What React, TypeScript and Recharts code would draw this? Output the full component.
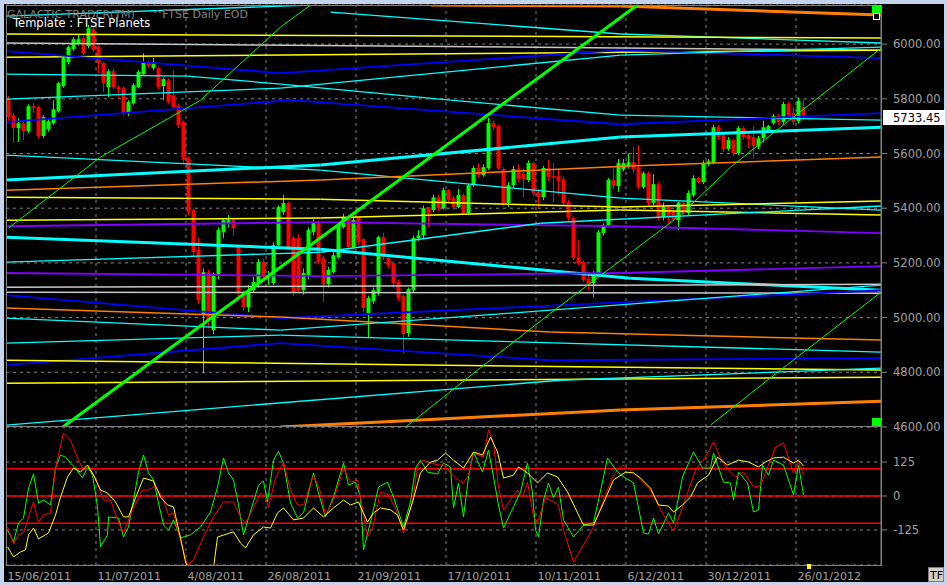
import React from 'react';
import { ComposedChart, Bar, Line, XAxis, YAxis, CartesianGrid, ReferenceLine } from 'recharts';

// ---------- DATA ----------
// one candle per trading day from 15/06/2011: [open, high, low, close]
const candles: number[][] = [
  [5799,5810,5720,5733],[5740,5750,5638,5693],[5693,5729,5642,5711],[5711,5720,5649,5682],[5682,5780,5675,5773],
  [5773,5784,5748,5766],[5770,5775,5655,5664],[5664,5740,5656,5733],[5689,5726,5680,5718],[5711,5795,5705,5762],
  [5755,5862,5750,5857],[5846,5955,5840,5949],[5934,5995,5925,5989],[5982,6025,5975,6018],[6004,6033,5995,6018],
  [6022,6030,5960,5967],[5993,6070,5985,6058],[6055,6062,5970,5978],[5989,5995,5894,5931],[5931,5935,5824,5857],
  [5843,5908,5806,5901],[5901,5910,5835,5843],[5843,5850,5806,5835],[5839,5846,5740,5748],[5748,5795,5737,5788],
  [5784,5857,5778,5850],[5843,5905,5838,5898],[5890,5967,5885,5931],[5931,5940,5912,5920],[5912,5949,5905,5931],
  [5912,5918,5835,5843],[5846,5878,5795,5872],[5868,5875,5780,5788],[5813,5905,5762,5770],[5773,5780,5693,5704],
  [5715,5720,5565,5576],[5583,5590,5375,5386],[5393,5400,5221,5239],[5247,5294,5050,5064],[5009,5180,4797,5166],
  [5166,5175,4960,4991],[4954,5165,4940,5152],[5155,5330,5140,5320],[5312,5360,5290,5356],[5345,5375,5330,5356],
  [5356,5360,5300,5327],[5258,5265,5080,5089],[5089,5100,5025,5038],[5038,5120,5020,5100],[5100,5150,5090,5130],
  [5126,5215,5110,5203],[5203,5215,5135,5148],[5148,5170,5120,5150],[5126,5275,5120,5265],[5265,5410,5255,5404],
  [5386,5448,5375,5419],[5419,5425,5250,5258],[5291,5300,5080,5093],[5291,5305,5090,5100],[5100,5180,5085,5163],
  [5152,5330,5140,5320],[5312,5360,5300,5345],[5345,5355,5195,5203],[5217,5225,5057,5122],[5122,5185,5110,5174],
  [5166,5240,5160,5228],[5221,5345,5215,5338],[5331,5380,5325,5367],[5367,5375,5250,5258],[5258,5365,5250,5356],
  [5364,5370,5265,5276],[5287,5290,5020,5035],[5016,5080,4925,5071],[5060,5110,5050,5100],[5089,5300,5080,5294],
  [5294,5310,5210,5221],[5217,5225,5180,5192],[5199,5205,5110,5126],[5130,5140,5060,5071],[5078,5085,4870,4939],
  [4943,5110,4930,5104],[5100,5300,5090,5291],[5291,5320,5280,5301],[5301,5410,5290,5400],[5404,5404,5331,5380],
  [5393,5450,5385,5440],[5440,5450,5390,5400],[5400,5475,5395,5466],[5466,5470,5420,5430],[5437,5445,5395,5404],
  [5404,5470,5400,5448],[5448,5455,5375,5382],[5382,5490,5375,5484],[5484,5555,5478,5547],[5547,5565,5510,5521],
  [5521,5560,5515,5550],[5547,5730,5540,5711],[5711,5720,5685,5696],[5700,5705,5540,5547],[5543,5550,5410,5419],
  [5419,5495,5405,5484],[5484,5555,5475,5543],[5543,5560,5495,5506],[5525,5545,5440,5506],[5503,5575,5495,5565],
  [5565,5570,5445,5455],[5459,5470,5400,5440],[5440,5555,5430,5547],[5547,5576,5500,5514],[5517,5565,5422,5512],
  [5517,5540,5448,5499],[5506,5515,5410,5419],[5422,5430,5355,5364],[5364,5370,5210,5217],[5221,5283,5190,5199],
  [5203,5210,5130,5137],[5141,5165,5100,5122],[5126,5170,5075,5163],[5163,5320,5155,5312],[5309,5345,5300,5338],
  [5338,5510,5330,5503],[5503,5545,5470,5481],[5481,5580,5460,5565],[5543,5580,5535,5565],[5554,5600,5545,5568],
  [5568,5625,5530,5543],[5547,5631,5470,5477],[5477,5535,5470,5528],[5528,5535,5410,5419],[5419,5525,5410,5488],
  [5488,5495,5355,5364],[5367,5420,5355,5404],[5404,5410,5340,5367],[5386,5395,5350,5360],[5356,5425,5320,5419],
  [5419,5430,5375,5382],[5382,5465,5375,5455],[5448,5520,5440,5510],[5510,5515,5490,5495],[5495,5575,5488,5565],
  [5561,5580,5555,5572],[5565,5705,5560,5696],[5696,5705,5650,5660],[5667,5675,5605,5616],[5616,5660,5610,5649],
  [5649,5655,5590,5601],[5601,5700,5595,5693],[5693,5700,5650,5660],[5667,5680,5620,5653],[5660,5700,5580,5627],
  [5627,5665,5615,5656],[5656,5720,5640,5696],[5685,5705,5680,5700],[5711,5745,5705,5737],[5737,5745,5705,5715],
  [5715,5790,5705,5781],[5781,5790,5730,5740],[5748,5770,5705,5715],[5718,5805,5710,5792],[5770,5800,5725,5733.45],
];

const dateTickDays = [0, 18, 36, 52, 70, 88, 106, 124, 140, 158];
const dateTickLabels = ['15/06/2011','11/07/2011','4/08/2011','26/08/2011','21/09/2011','17/10/2011','10/11/2011','6/12/2011','30/12/2011','26/01/2012'];
const priceTicks = [4600, 4800, 5000, 5200, 5400, 5600, 5800, 6000];
const oscTicks = [-125, 0, 125];
const oscBands = [100, 0, -100];
const lastPrice = 5733.45;

// planetary lines: [day index, price]
const cyanA = [[-0.5,6102],[60.4,6143]];
const orangeTop = [[84.4,6143],[122.4,6139],[174.5,6106]];
const cyanB = [[64.4,6117],[122.4,6037],[174.5,6004]];
const yellowA = [[-0.5,6037],[174.5,6022]];
const silverA = [[-0.5,6004],[174.5,5978]];
const yellowB = [[-0.5,5952],[174.5,5978]];
const blueA = [[-0.5,5974],[54.4,5894],[122.4,5978],[174.5,5949]];
const cyanC = [[-0.5,5890],[35.8,5883],[54.4,5854],[88.4,5795],[122.4,5740],[174.5,5722]];
const cyanD = [[-0.5,5799],[54.4,5839],[122.4,5960],[174.5,5989]];
const blueB = [[-0.5,5715],[56.4,5795],[122.4,5707],[174.5,5748]];
const cyanE = [[-0.5,5594],[62.4,5539],[122.4,5437],[174.5,5393]];
const cyanThickA = [[-0.5,5503],[62.4,5558],[122.4,5660],[174.5,5696]];
const orangeA = [[-0.5,5466],[62.4,5503],[124.4,5554],[174.5,5587]];
const yellowC = [[-0.5,5440],[62.4,5433],[122.4,5404],[174.5,5426]];
const yellowD = [[-0.5,5356],[62.4,5364],[122.4,5393],[174.5,5375]];
const purpleA = [[-0.5,5334],[62.4,5349],[122.4,5334],[174.5,5309]];
const cyanThickB = [[-0.5,5294],[62.4,5250],[124.4,5144],[174.5,5100]];
const cyanF = [[-0.5,5203],[62.4,5239],[106.4,5345],[174.5,5408]];
const purpleB = [[-0.5,5163],[62.4,5152],[122.4,5163],[174.5,5188]];
const silverB = [[-0.5,5111],[174.5,5122]];
const silverC = [[-0.5,5093],[174.5,5089]];
const blueC = [[-0.5,5082],[54.4,4998],[174.5,5100]];
const orangeB = [[-0.5,5035],[54.4,5002],[108.4,4947],[174.5,4918]];
const cyanG = [[-0.5,4998],[54.4,4954],[108.4,5027],[174.5,5119]];
const cyanH = [[-0.5,4907],[54.4,4936],[174.5,4874]];
const blueD = [[-0.5,4826],[54.4,4907],[108.4,4844],[174.5,4852]];
const yellowE = [[-0.5,4844],[174.5,4808]];
const yellowF = [[-0.5,4760],[174.5,4782]];
const cyanI = [[-0.5,4607],[110.4,4771],[174.5,4815]];
const orangeBottom = [[54.4,4600],[122.4,4662],[174.5,4694]];
const greenThick = [[10.8,4599],[125.8,6143]];
const greenA = [[0,5327],[18.4,5587],[38.4,5795],[54.4,6062],[60.4,6143]];
const greenB = [[79.4,4599],[93.8,4808],[108.4,5016],[123,5217],[134.4,5375],[144.4,5550],[154.4,5696],[164.4,5839],[174.5,5985]];
const greenC = [[140.4,4607],[151.8,4771],[174.5,5093]];

// oscillator panel: [day index, value]
const oscGreen = [[-0.2,-125],[1,-169],[2,-99],[3,-81],[4,29],[5,81],[6,-26],[7,-15],[8.4,-33],[9.4,103],[10.4,151],[11.4,143],[12.4,121],[13.4,103],[14.8,66],[15.8,107],[16.8,77],[17.8,-40],[18.4,-187],[19.8,-143],[20,-77],[22,-81],[23,-151],[24,-114],[25,-15],[26,88],[27,151],[28,85],[29,59],[30,-26],[31,-107],[32,-125],[33,-88],[34.4,-154],[36.4,-143],[38.4,-114],[40.4,-59],[41.8,33],[43,140],[44,85],[45,59],[46,-33],[47,-143],[48,-81],[50,40],[51,55],[51.8,-22],[53,132],[54,165],[55,121],[56.4,-26],[57.8,-81],[59,-62],[61,85],[62,11],[63.4,-77],[65,-4],[67,121],[68,40],[69.4,51],[70.4,-4],[71,-198],[72.4,-96],[74,33],[75.8,51],[77,-4],[79,-114],[80.4,-22],[81.4,103],[82.4,132],[83.8,88],[85.8,81],[87,121],[88.4,107],[89,-44],[90,48],[91,-77],[92,70],[93,162],[94.8,88],[96,169],[97,70],[98,-33],[99,-118],[101,-40],[102.4,15],[103.8,121],[104.8,11],[105.4,-125],[106,-151],[107,-15],[108,48],[109,-7],[110,33],[111,-88],[113,-151],[115,-107],[117,-99],[118,-15],[119.8,140],[121.8,88],[123.4,66],[125,48],[127,-136],[128,-140],[129,-81],[130,-140],[132,-62],[133,-99],[134.8,70],[137,162],[138.8,103],[140.4,103],[141,158],[143,51],[144.4,48],[145,-15],[146,88],[147.8,48],[149,-59],[150,-51],[150.8,114],[152,77],[153,132],[155,114],[157,4],[158,114],[159,4]];
const oscRed = [[-0.2,-114],[1,-176],[2,-143],[3,-136],[4,-77],[5,-22],[6,-96],[7,-70],[8.4,-62],[9.4,103],[11,232],[12.4,206],[13.8,140],[15,96],[16,107],[17.4,66],[19,-15],[20.4,-15],[21.8,-88],[23,-136],[24.8,-51],[26.8,22],[28,22],[29.4,37],[31,-15],[32,-70],[33,-62],[34,-136],[35.8,-254],[37,-235],[39,-151],[41,-77],[43,-22],[45,-22],[46.4,-77],[47.4,-99],[48.8,-51],[50.4,11],[51.4,-7],[52,-40],[53.4,66],[55,125],[56.4,22],[57.8,-33],[59,-33],[61,77],[62.4,15],[63.4,-70],[65,-15],[67,103],[68.4,51],[69.8,59],[70.4,-7],[71.8,-151],[72.8,-118],[74.4,15],[76,4],[77.4,-44],[79,-136],[80.8,-22],[81.8,107],[82.8,132],[84,125],[85.8,114],[87,114],[88.4,85],[89.4,66],[91,48],[92,77],[93,158],[95,143],[96,243],[97,195],[98,33],[99,-51],[101.8,22],[102.8,-4],[103.8,51],[105,-77],[105.8,-96],[107.4,-7],[109,-22],[110,-33],[111,-125],[113,-243],[115,-180],[117,-114],[119,-15],[121,77],[122.8,114],[124.4,96],[126.4,59],[128.4,22],[131,-70],[133,-129],[134.4,-62],[135.8,11],[137.4,96],[139.4,143],[141,199],[142.4,140],[143.8,99],[145.4,70],[147,88],[149,33],[150.4,37],[152,114],[153.4,180],[155,195],[157,85],[158,125],[159,77]];
const oscYellow = [[-0.2,-187],[1,-224],[2.4,-206],[3.4,-198],[4,-143],[5,-118],[6,-158],[8,-136],[9.4,-70],[10.4,-4],[11.8,70],[13,103],[14.4,88],[15.8,114],[17,77],[18.4,22],[19.8,11],[21.4,-22],[23,-77],[24,-77],[25.4,-7],[27,66],[29,55],[30.4,-4],[31.8,-33],[33,-40],[34.4,-154],[35.4,-243],[36,-265],[41,-265],[41.8,-151],[45,-132],[46.4,-173],[47.4,-191],[49,-143],[51,-114],[52.4,-118],[53.8,-62],[55,-44],[57,-88],[59,-81],[61,-44],[63,-77],[65,-44],[67,-15],[68.4,-33],[70,-22],[71.8,-96],[73,-62],[74.4,-44],[76.4,-51],[77.8,-70],[79,-125],[80.8,-22],[82.4,85],[84.4,125],[85.8,132],[87.4,158],[89,132],[91,103],[93,162],[94.8,151],[96.4,217],[97.8,162],[99,66],[101,77],[102,107],[103.8,85],[105.8,48],[107.8,85],[109.8,70],[111.8,15],[113.8,-62],[115,-107],[117,-107],[119,-26],[121,59],[123.4,88],[125,85],[126.4,66],[128.4,29],[130,-33],[132,-37],[133,-59],[134.8,-33],[136.4,-4],[137.8,48],[140,77],[141.8,143],[143.8,114],[146,132],[148,125],[150,107],[151.4,125],[153,140],[155,143],[157,121],[158,132],[159,110]];

// ---------- STYLES ----------
const CYAN = '#00ffff', BLUE = '#0000ff', YELLOW = '#ffff00', ORANGE = '#ff8000', PURPLE = '#8000ff', SILVER = '#c8c8c8', GREEN = '#00ff00';
const planetLines = [
  { pts: cyanA, stroke: CYAN, w: 1.3 },
  { pts: orangeTop, stroke: ORANGE, w: 3 },
  { pts: cyanB, stroke: CYAN, w: 1.3 },
  { pts: yellowA, stroke: YELLOW, w: 1.5 },
  { pts: silverA, stroke: SILVER, w: 1.5 },
  { pts: yellowB, stroke: YELLOW, w: 1.5 },
  { pts: blueA, stroke: BLUE, w: 1.8 },
  { pts: cyanC, stroke: CYAN, w: 1.3 },
  { pts: cyanD, stroke: CYAN, w: 1.3 },
  { pts: blueB, stroke: BLUE, w: 1.8 },
  { pts: cyanE, stroke: CYAN, w: 1.3 },
  { pts: cyanThickA, stroke: CYAN, w: 3 },
  { pts: orangeA, stroke: ORANGE, w: 1.5 },
  { pts: yellowC, stroke: YELLOW, w: 1.5 },
  { pts: yellowD, stroke: YELLOW, w: 1.5 },
  { pts: purpleA, stroke: PURPLE, w: 1.8 },
  { pts: cyanThickB, stroke: CYAN, w: 3 },
  { pts: cyanF, stroke: CYAN, w: 1.3 },
  { pts: purpleB, stroke: PURPLE, w: 1.8 },
  { pts: silverB, stroke: SILVER, w: 1.5 },
  { pts: silverC, stroke: SILVER, w: 1.5 },
  { pts: blueC, stroke: BLUE, w: 1.8 },
  { pts: orangeB, stroke: ORANGE, w: 1.5 },
  { pts: cyanG, stroke: CYAN, w: 1.3 },
  { pts: cyanH, stroke: CYAN, w: 1.3 },
  { pts: blueD, stroke: BLUE, w: 1.8 },
  { pts: yellowE, stroke: YELLOW, w: 1.5 },
  { pts: yellowF, stroke: YELLOW, w: 1.5 },
  { pts: cyanI, stroke: CYAN, w: 1.3 },
  { pts: orangeBottom, stroke: ORANGE, w: 3 },
  { pts: greenThick, stroke: GREEN, w: 3 },
  { pts: greenA, stroke: GREEN, w: 1 },
  { pts: greenB, stroke: GREEN, w: 1 },
  { pts: greenC, stroke: GREEN, w: 1 },
];

const X_DOMAIN: [number, number] = [-0.5, 174.5];
const gridX = dateTickDays.map((d) => d - 0.5);
const candleData = candles.map(([o, h, l, c], i) => ({ i, o, h, l, c }));

const oscData = (() => {
  const m = new Map<number, any>();
  const add = (arr: number[][], key: string) =>
    arr.forEach(([i, v]) => {
      const r = m.get(i) || { i };
      r[key] = v;
      m.set(i, r);
    });
  add(oscGreen, 'g');
  add(oscRed, 'r');
  add(oscYellow, 'y');
  return Array.from(m.values()).sort((a, b) => a.i - b.i);
})();

const FONT = 'DejaVu Sans, Verdana, sans-serif';
const AXIS_TEXT = '#a0a0a0';
const GRID = '#808080';

const Candle = (props: any) => {
  const { x, y, width, height, payload } = props;
  if (x == null || !payload) return null;
  const { o, h, l, c } = payload;
  const top = Math.min(y, y + height);
  const hh = Math.abs(height);
  const k = h > l ? hh / (h - l) : 0;
  const cx = Math.round(x + width / 2) + 0.5;
  const color = c >= o ? '#00ff00' : '#ff0000';
  const bTop = top + (h - Math.max(o, c)) * k;
  const bBot = top + (h - Math.min(o, c)) * k;
  return (
    <g>
      <line x1={cx} x2={cx} y1={top} y2={top + hh} stroke={color} strokeWidth={1} />
      <rect x={cx - 2} y={bTop} width={4} height={Math.max(1, bBot - bTop)} fill={color} />
    </g>
  );
};

const PriceTag = (props: any) => {
  const vb = props.viewBox || {};
  const x = (vb.x || 0) + (vb.width || 0);
  const y = vb.y || 0;
  return (
    <g>
      <rect x={x + 2} y={y - 7} width={62} height={15} fill="#ffffff" />
      <text x={x + 12} y={y + 5} fontSize={11.5} fontFamily={FONT} fill="#000000">{lastPrice.toFixed(2)}</text>
    </g>
  );
};

const DateTick = (props: any) => {
  const { x, y, payload } = props;
  const k = gridX.indexOf(payload.value);
  return (
    <text x={x + 1.5} y={y + 15} fill={AXIS_TEXT} fontSize={11} fontFamily={FONT} textAnchor="start">
      {dateTickLabels[k]}
    </text>
  );
};

const segments = (pts: number[][]) => {
  const out: any[] = [];
  for (let j = 0; j < pts.length - 1; j++) out.push([pts[j], pts[j + 1]]);
  return out;
};

export default function App() {
  return (
    <div style={{ position: 'fixed', left: 0, top: 0, width: 947, height: 585, background: '#c3d4ec', overflow: 'hidden', fontFamily: FONT }}>
      <div style={{ position: 'absolute', left: 4, top: 4, width: 940, height: 578, background: '#000' }} />
      <div style={{ position: 'absolute', left: 0, top: 427 }}>
        <ComposedChart width={947} height={158} data={oscData} margin={{ top: 0, right: 0, left: 6, bottom: 0 }}>
          <XAxis
            type="number"
            dataKey="i"
            domain={X_DOMAIN}
            allowDataOverflow
            ticks={gridX}
            interval={0}
            tick={<DateTick />}
            tickLine={false}
            axisLine={false}
            tickSize={0}
            tickMargin={0}
            height={20}
          />
          <YAxis
            orientation="right"
            width={66}
            domain={[-254, 254]}
            allowDataOverflow
            ticks={oscTicks}
            interval={0}
            tick={{ fill: AXIS_TEXT, fontSize: 11.5, fontFamily: FONT }}
            tickLine={{ stroke: GRID }}
            tickSize={6}
            tickMargin={6}
            axisLine={{ stroke: GRID }}
          />
          <CartesianGrid vertical={false} stroke={GRID} strokeDasharray="3 4" />
          {gridX.map((gx) => (
            <ReferenceLine key={'lgx' + gx} x={gx} stroke={GRID} strokeDasharray="3 4" ifOverflow="hidden" />
          ))}
          {oscBands.map((b) => (
            <ReferenceLine key={'band' + b} y={b} stroke="#ff0000" strokeWidth={1.5} />
          ))}
          <Line dataKey="g" stroke="#00ff00" strokeWidth={1} dot={false} connectNulls type="linear" isAnimationActive={false} />
          <Line dataKey="r" stroke="#ff0000" strokeWidth={1} dot={false} connectNulls type="linear" isAnimationActive={false} />
          <Line dataKey="y" stroke="#ffff00" strokeWidth={1} dot={false} connectNulls type="linear" isAnimationActive={false} />
        </ComposedChart>
      </div>
      <div style={{ position: 'absolute', left: 0, top: 0 }}>
        <ComposedChart width={947} height={440} data={candleData} margin={{ top: 5, right: 0, left: 6, bottom: 13 }}>
          <XAxis type="number" dataKey="i" domain={X_DOMAIN} allowDataOverflow hide />
          <YAxis
            orientation="right"
            width={66}
            domain={[4600, 6143]}
            allowDataOverflow
            ticks={priceTicks}
            interval={0}
            tickFormatter={(v: number) => v.toFixed(2)}
            tick={{ fill: AXIS_TEXT, fontSize: 11.5, fontFamily: FONT }}
            tickLine={{ stroke: GRID }}
            tickSize={6}
            tickMargin={6}
            axisLine={{ stroke: GRID }}
          />
          <CartesianGrid vertical={false} stroke={GRID} strokeDasharray="3 4" />
          {gridX.map((gx) => (
            <ReferenceLine key={'gx' + gx} x={gx} stroke={GRID} strokeDasharray="3 4" ifOverflow="hidden" />
          ))}
          {planetLines.flatMap((pl, li) =>
            segments(pl.pts).map(([a, b], si) => (
              <ReferenceLine
                key={'pl' + li + '_' + si}
                segment={[{ x: a[0], y: a[1] }, { x: b[0], y: b[1] }]}
                stroke={pl.stroke}
                strokeWidth={pl.w}
                ifOverflow="hidden"
              />
            ))
          )}
          <Bar dataKey={(d: any) => [d.l, d.h]} barSize={4} shape={<Candle />} isAnimationActive={false} />
          <ReferenceLine y={lastPrice} stroke="none" ifOverflow="visible" label={(p: any) => <PriceTag {...p} />} />
        </ComposedChart>
      </div>
      <svg width={947} height={585} style={{ position: 'absolute', left: 0, top: 0, pointerEvents: 'none' }}>
        <rect x={6.5} y={5.5} width={875} height={560} fill="none" stroke={GRID} strokeWidth={1} />
        <line x1={6} x2={882} y1={426.5} y2={426.5} stroke={GRID} strokeWidth={1} />
        <text x={7} y={17.5} fontSize={11} fontFamily={FONT} fill="#808080">GALACTIC TRADER(TM)</text>
        <text x={153} y={17.5} fontSize={11} fontFamily={FONT} fill="#808080">^FTSE Daily EOD</text>
        <text x={13} y={26.5} fontSize={11.5} fontFamily={FONT} fill="#ffffff">Template : FTSE Planets</text>
        <rect x={872} y={5} width={9} height={8} fill="#00ff00" />
        <rect x={873.5} y={13.5} width={6} height={6} fill="#000" stroke="#ffffff" strokeWidth={1} />
        <rect x={872} y={418} width={9} height={8} fill="#00ff00" />
        <rect x={807} y={564} width={4} height={5} fill="#ffff00" />
        <rect x={928.5} y={567.5} width={15} height={14} fill="#d4d0c8" stroke="#808080" />
        <text x={930} y={579} fontSize={11} fontFamily={FONT} fill="#000">TF</text>
      </svg>
    </div>
  );
}
